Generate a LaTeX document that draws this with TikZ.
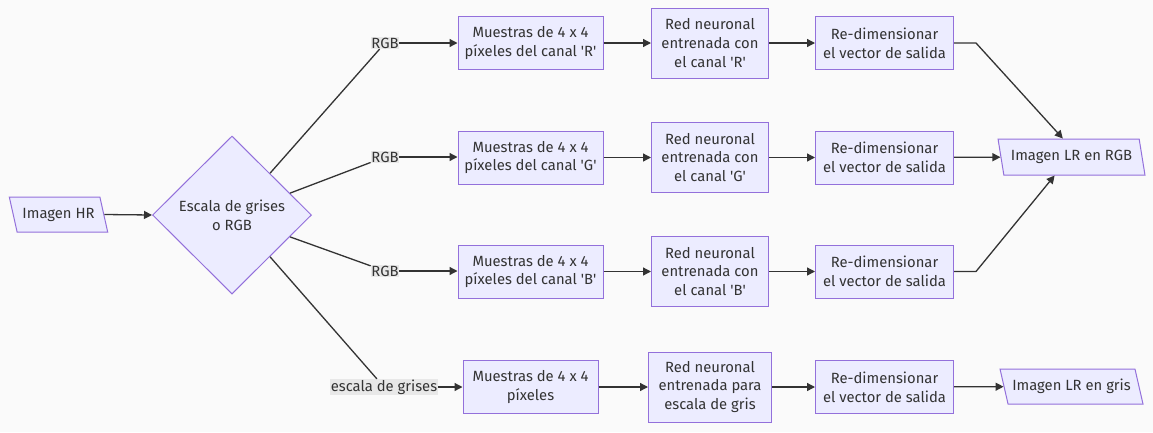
\documentclass[tikz,border=0pt]{standalone}
\usepackage{fontspec}
\setmainfont{Fira Sans}
\usetikzlibrary{shapes.geometric,arrows.meta,calc}
\definecolor{nodefill}{HTML}{ECECFF}
\definecolor{nodeline}{HTML}{9370DB}
\definecolor{ink}{HTML}{333333}
\definecolor{lblbg}{HTML}{E8E8E8}
\definecolor{bgcol}{HTML}{FAFAFA}
\begin{document}
\begin{tikzpicture}[x=1pt,y=-1pt,
 every node/.style={font=\fontsize{14.8}{18.8}\selectfont, text=ink, align=center},
 box/.style={draw=nodeline, fill=nodefill, line width=1pt, inner sep=0pt},
 para/.style={trapezium, trapezium left angle=117, trapezium right angle=63, trapezium stretches=true, draw=nodeline, fill=nodefill, line width=1pt, inner sep=0pt},
 lbl/.style={fill=lblbg, inner sep=0.6pt},
 flow/.style={draw=ink, line width=1.3pt, -{Triangle[length=8pt,width=8pt]}},
 link/.style={draw=ink, line width=1.3pt}]
\fill[bgcol] (0,0) rectangle (1153,432);
\useasboundingbox (0,0) rectangle (1153,432);

\node[para, minimum width=99pt, minimum height=35pt] (hr) at (58.5,214.5) {Imagen HR};
\node[box, diamond, minimum width=159pt, minimum height=158pt] (dia) at (232,215) {Escala de grises\\o RGB};

\node[lbl] (lR) at (385,43) {RGB};
\node[lbl] (lG) at (385,157) {RGB};
\node[lbl] (lB) at (385,271) {RGB};
\node[lbl] (lY) at (384,387) {escala de grises};

\node[box, minimum width=145pt, minimum height=53pt] (sR) at (530.5,43) {Muestras de 4 x 4\\píxeles del canal \textquotesingle R\textquotesingle};
\node[box, minimum width=145pt, minimum height=53pt] (sG) at (530.5,157.5) {Muestras de 4 x 4\\píxeles del canal \textquotesingle G\textquotesingle};
\node[box, minimum width=145pt, minimum height=53pt] (sB) at (530.5,271.5) {Muestras de 4 x 4\\píxeles del canal \textquotesingle B\textquotesingle};
\node[box, minimum width=135pt, minimum height=53pt] (sY) at (530.5,387) {Muestras de 4 x 4\\píxeles};

\node[box, minimum width=117pt, minimum height=70pt] (nR) at (710,43) {Red neuronal\\entrenada con\\el canal \textquotesingle R\textquotesingle};
\node[box, minimum width=117pt, minimum height=70pt] (nG) at (710,157.5) {Red neuronal\\entrenada con\\el canal \textquotesingle G\textquotesingle};
\node[box, minimum width=117pt, minimum height=70pt] (nB) at (710,271.5) {Red neuronal\\entrenada con\\el canal \textquotesingle B\textquotesingle};
\node[box, minimum width=123pt, minimum height=70pt] (nY) at (710,387) {Red neuronal\\entrenada para\\escala de gris};

\node[box, minimum width=138pt, minimum height=53pt] (rR) at (884.5,43) {Re-dimensionar\\el vector de salida};
\node[box, minimum width=138pt, minimum height=53pt] (rG) at (884.5,157.5) {Re-dimensionar\\el vector de salida};
\node[box, minimum width=138pt, minimum height=53pt] (rB) at (884.5,271.5) {Re-dimensionar\\el vector de salida};
\node[box, minimum width=138pt, minimum height=53pt] (rY) at (884.5,387) {Re-dimensionar\\el vector de salida};

\node[para, trapezium left angle=111, trapezium right angle=69, minimum width=147pt, minimum height=36pt] (lr) at (1071.5,157) {Imagen LR en RGB};
\node[para, minimum width=143pt, minimum height=35pt] (lg) at (1071.5,386.5) {Imagen LR en gris};

\draw[flow] (hr.east) -- (dia.west);

\draw[link] ($(dia.north)!0.475!(dia.east)$) -- (lR);
\draw[link] ($(dia.north)!0.725!(dia.east)$) -- (lG);
\draw[link] ($(dia.east)!0.275!(dia.south)$) -- (lB);
\draw[link] ($(dia.east)!0.525!(dia.south)$) -- (lY);

\draw[flow] (lR) -- (sR.west |- lR);
\draw[flow] (lG) -- (sG.west |- lG);
\draw[flow] (lB) -- (sB.west |- lB);
\draw[flow] (lY) -- (sY.west |- lY);

\draw[flow] (sR) -- (nR);
\draw[flow] (sG) -- (nG);
\draw[flow] (sB) -- (nB);
\draw[flow] (sY) -- (nY);

\draw[flow] (nR) -- (rR);
\draw[flow] (nG) -- (rG);
\draw[flow] (nB) -- (rB);
\draw[flow] (nY) -- (rY);

\draw[flow] (rR.east) -- ++(22,0) -- ($(lr.top left corner)!0.46!(lr.top right corner)$);
\draw[flow] (rG) -- (lr);
\draw[flow] (rB.east) -- ++(22,0) -- ($(lr.bottom left corner)!0.36!(lr.bottom right corner)$);
\draw[flow] (rY) -- (lg);
\end{tikzpicture}
\end{document}
